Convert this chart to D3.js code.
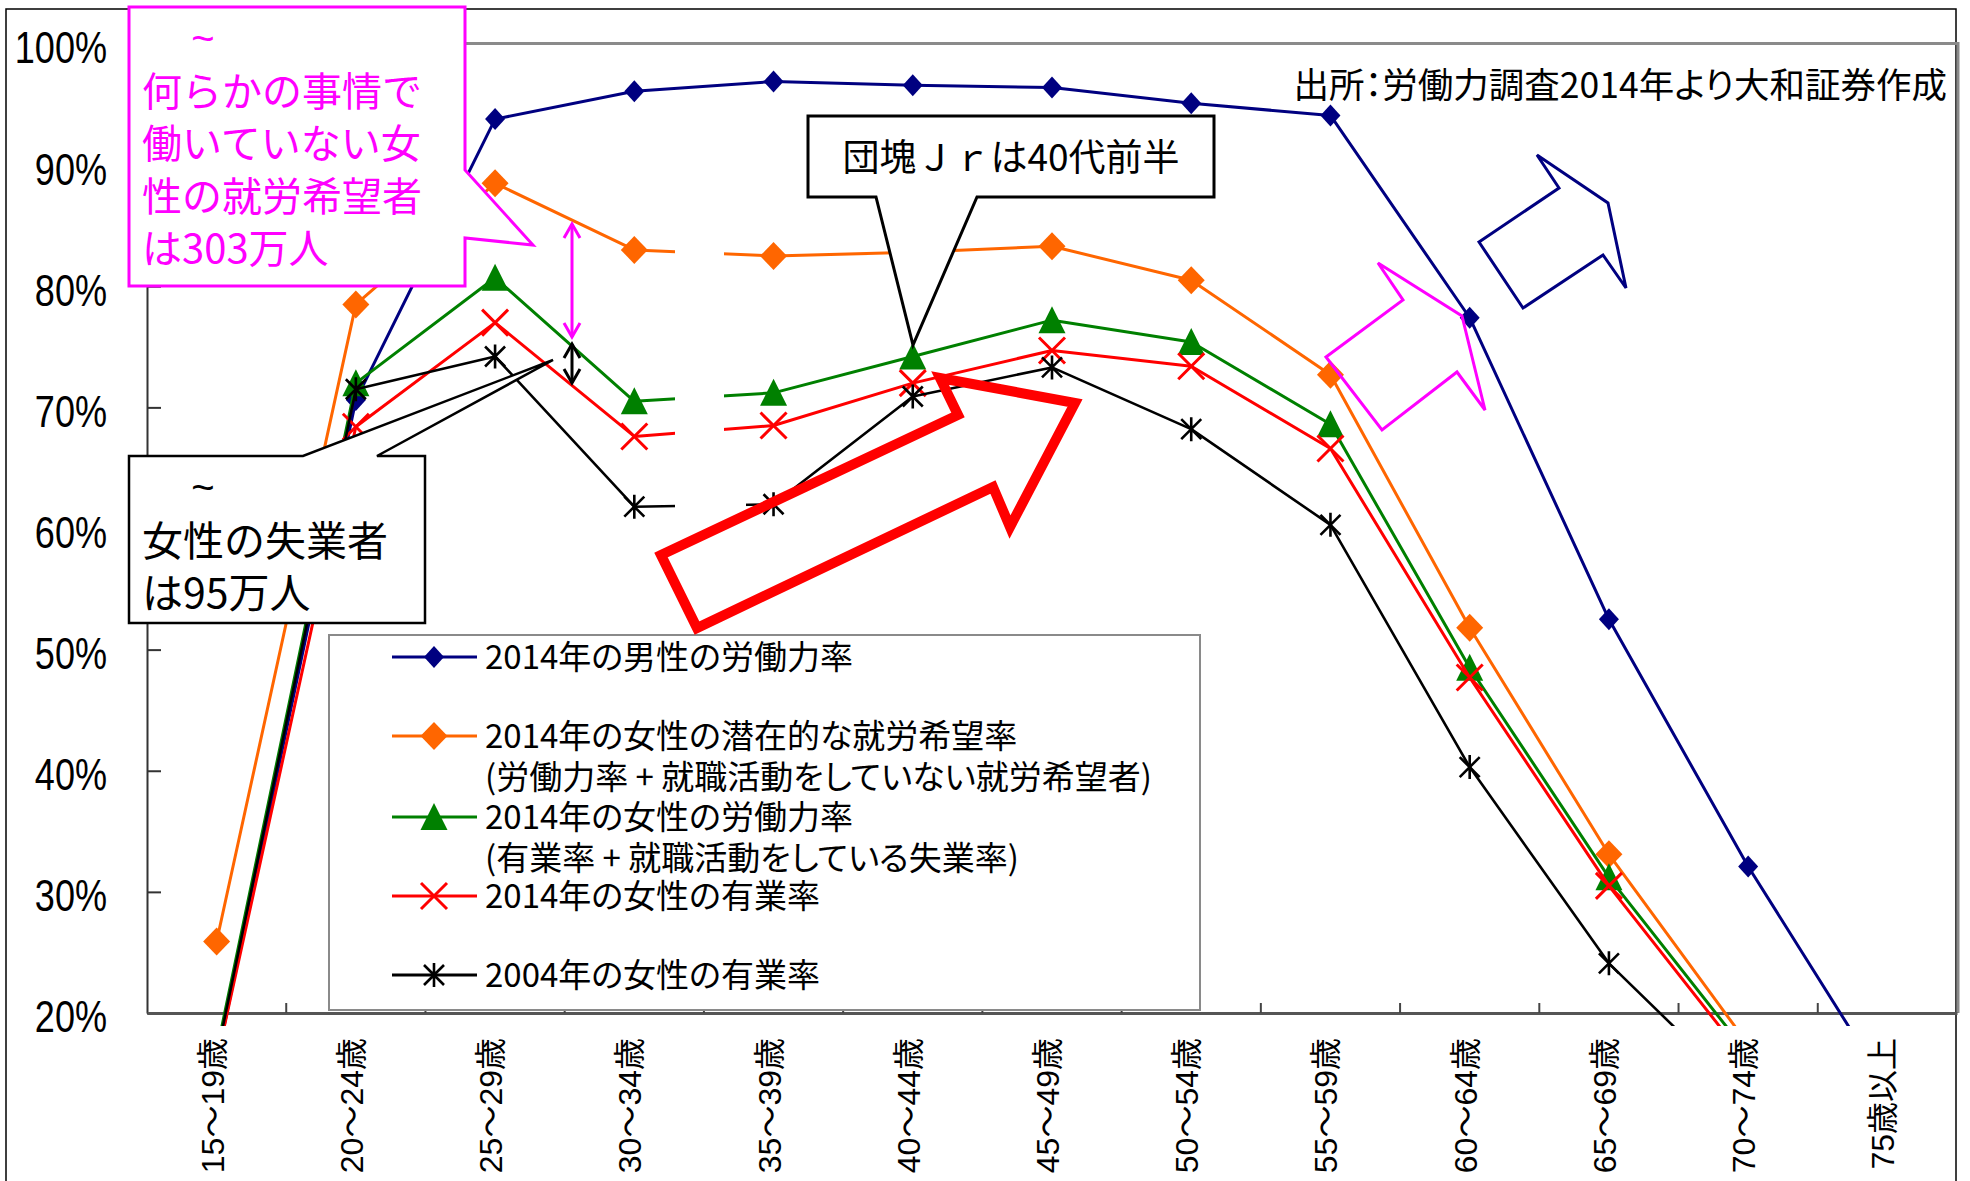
<!DOCTYPE html>
<html>
<head>
<meta charset="utf-8">
<script src="https://cdn.jsdelivr.net/npm/d3@7"></script>
<style>
  body { margin: 0; background: #fff; }
  svg { display: block; }
</style>
</head>
<body>
<svg id="chart" width="1970" height="1181"></svg>
<script>
// Age groups on the x axis
const categories = ["15～19歳", "20～24歳", "25～29歳", "30～34歳", "35～39歳", "40～44歳",
  "45～49歳", "50～54歳", "55～59歳", "60～64歳", "65～69歳", "70～74歳", "75歳以上"];

// Rates in percent per age group (null = below the plotted range)
const men2014 = [16.0, 70.6, 93.8, 96.1, 96.9, 96.6, 96.4, 95.1, 94.1, 77.4, 52.5, 32.1, 13.8];
const womenPotential2014 = [25.9, 78.5, 88.5, 83.0, 82.5, 82.8, 83.3, 80.5, 72.7, 51.8, 33.1, 17.4, null];
const womenLabour2014 = [16.8, 72.0, 80.7, 70.5, 71.2, 74.2, 77.2, 75.4, 68.6, 48.5, 31.2, 16.6, null];
const womenEmployed2014 = [16.0, 68.4, 77.0, 67.6, 68.5, 72.0, 74.7, 73.4, 66.6, 47.7, 30.5, 15.9, null];
const womenEmployed2004 = [16.4, 71.5, 74.2, 61.8, 62.0, 70.9, 73.3, 68.2, 60.3, 40.3, 24.1, 12.9, null];

// Y axis ticks
const yTicks = [20, 30, 40, 50, 60, 70, 80, 90, 100];

// Legend labels (one or two lines each)
const legendLabels = [
  ["2014年の男性の労働力率"],
  ["2014年の女性の潜在的な就労希望率", "(労働力率 + 就職活動をしていない就労希望者)"],
  ["2014年の女性の労働力率", "(有業率 + 就職活動をしている失業率)"],
  ["2014年の女性の有業率"],
  ["2004年の女性の有業率"]
];

const sourceNote = "出所：労働力調査2014年より大和証券作成";
const noteWanting = ["何らかの事情で", "働いていない女", "性の就労希望者", "は303万人"];
const noteUnemployed = ["女性の失業者", "は95万人"];
const noteBabyBoom = "団塊Ｊｒは40代前半";

const LATIN = "'Liberation Sans', Arial, sans-serif";
const REGULAR = "'Liberation Sans', Arial, 'Noto Sans CJK JP', sans-serif";
const CJK = "'Noto Sans CJK JP', sans-serif";

const svg = d3.select("#chart");
const plot = { left: 147, right: 1957, top: 44, bottom: 1013 };

const x = d3.scaleBand().domain(categories).range([plot.left, plot.right]).padding(0);
const cx = c => x(c) + x.bandwidth() / 2;
const y = d3.scaleLinear().domain([20, 100]).range([plot.bottom, plot.top]);

svg.append("rect").attr("width", 1970).attr("height", 1181).attr("fill", "#fff");

// outer chart frame
svg.append("rect").attr("x", 6).attr("y", 9).attr("width", 1950).attr("height", 1200)
  .attr("fill", "none").attr("stroke", "#000").attr("stroke-width", 1.5);

// plot area border (top and right)
svg.append("path")
  .attr("d", `M${plot.left},${plot.top - 0.5} H${plot.right + 1} V${plot.bottom}`)
  .attr("fill", "none").attr("stroke", "#8a8a8a").attr("stroke-width", 3);

// y axis, condensed labels
const labelSquash = 0.82;
const yAxis = svg.append("g").attr("transform", `translate(${plot.left},0)`)
  .call(d3.axisLeft(y).tickValues(yTicks).tickFormat(d => d + "%")
    .tickSizeInner(-14).tickSizeOuter(0).tickPadding(40));
yAxis.select(".domain").attr("stroke", "#333").attr("stroke-width", 2);
yAxis.selectAll(".tick line").attr("stroke", "#333").attr("stroke-width", 2);
yAxis.selectAll(".tick text").attr("font-family", LATIN).attr("font-size", 44)
  .attr("fill", "#000").attr("dy", "0.43em")
  .attr("x", -40 / labelSquash).attr("transform", `scale(${labelSquash},1)`);

// x axis
const xAxis = svg.append("g").attr("transform", `translate(0,${plot.bottom})`)
  .call(d3.axisBottom(x).tickSize(0).tickSizeOuter(0));
xAxis.select(".domain").attr("stroke", "#555").attr("stroke-width", 3);
xAxis.selectAll(".tick text")
  .attr("font-family", REGULAR).attr("font-size", 32).attr("fill", "#000")
  .attr("text-anchor", "end").attr("transform", "rotate(-90)")
  .attr("x", -25).attr("y", 7).attr("dy", 0);
// tick marks at category boundaries
svg.append("g").selectAll("line").data(categories.slice(1)).join("line")
  .attr("x1", d => x(d)).attr("x2", d => x(d))
  .attr("y1", plot.bottom - 10).attr("y2", plot.bottom)
  .attr("stroke", "#444").attr("stroke-width", 2);

// clipping for series
svg.append("clipPath").attr("id", "plotClip").append("rect")
  .attr("x", plot.left).attr("y", 0).attr("width", plot.right - plot.left).attr("height", 1026);

const series = [
  { values: men2014, color: "#000080", marker: "diamondS", width: 3 },
  { values: womenPotential2014, color: "#FF6600", marker: "diamondL", width: 3 },
  { values: womenLabour2014, color: "#008000", marker: "triangle", width: 3 },
  { values: womenEmployed2014, color: "#FF0000", marker: "cross", width: 3 },
  { values: womenEmployed2004, color: "#000000", marker: "star", width: 2.6 }
];

function drawMarker(g, type, color, px, py) {
  if (type === "diamondS") {
    g.append("path").attr("d", `M${px},${py - 11} L${px + 10},${py} L${px},${py + 11} L${px - 10},${py} Z`)
      .attr("fill", color);
  } else if (type === "diamondL") {
    g.append("path").attr("d", `M${px},${py - 14} L${px + 13.5},${py} L${px},${py + 14} L${px - 13.5},${py} Z`)
      .attr("fill", color);
  } else if (type === "triangle") {
    g.append("path").attr("d", `M${px},${py - 14} L${px + 13.5},${py + 13} L${px - 13.5},${py + 13} Z`)
      .attr("fill", color);
  } else if (type === "cross") {
    g.append("path").attr("d", `M${px - 13},${py - 13} L${px + 13},${py + 13} M${px - 13},${py + 13} L${px + 13},${py - 13}`)
      .attr("stroke", color).attr("stroke-width", 3).attr("fill", "none");
  } else if (type === "star") {
    g.append("path").attr("d", `M${px - 10},${py - 10} L${px + 10},${py + 10} M${px - 10},${py + 10} L${px + 10},${py - 10} M${px},${py - 12} V${py + 12}`)
      .attr("stroke", color).attr("stroke-width", 2.6).attr("fill", "none");
  }
}

const seriesLayer = svg.append("g").attr("clip-path", "url(#plotClip)");
const line = d3.line()
  .defined(d => d.v != null)
  .x(d => cx(d.c)).y(d => y(d.v));

series.forEach(s => {
  const pts = categories.map((c, i) => ({ c, v: s.values[i] }));
  const g = seriesLayer.append("g");
  g.append("path").datum(pts).attr("d", line)
    .attr("fill", "none").attr("stroke", s.color).attr("stroke-width", s.width)
    .attr("stroke-linejoin", "round");
  pts.filter(p => p.v != null).forEach(p => drawMarker(g, s.marker, s.color, cx(p.c), y(p.v)));
});

// blank text box sitting over the lines between 30～34 and 35～39
svg.append("path")
  .attr("d", "M675,150 H724 V470 L746,478 V525 H675 Z")
  .attr("fill", "#fff");

// legend
const legend = svg.append("g");
legend.append("rect").attr("x", 329).attr("y", 635).attr("width", 871).attr("height", 375)
  .attr("fill", "#fff").attr("stroke", "#8a8a8a").attr("stroke-width", 2);
const legendRows = [657, 736, 817, 896, 975];
series.forEach((s, i) => {
  const ly = legendRows[i];
  legend.append("line").attr("x1", 392).attr("x2", 477).attr("y1", ly).attr("y2", ly)
    .attr("stroke", s.color).attr("stroke-width", 3);
  drawMarker(legend, s.marker, s.color, 434, ly);
  legendLabels[i].forEach((t, j) => {
    legend.append("text").attr("x", 485).attr("y", ly + 12 + j * 41)
      .attr("font-family", CJK).attr("font-size", 33)
      .style("font-feature-settings", "'palt' 1")
      .attr("fill", "#000").text(t);
  });
});

// callout: women who want to work but are not working
svg.append("path")
  .attr("d", "M129,7 H465 V170 L533,245 L465,238 V286 H129 Z")
  .attr("fill", "#fff").attr("stroke", "#FF00FF").attr("stroke-width", 3);
svg.append("text").attr("x", 203).attr("y", 52).attr("text-anchor", "middle")
  .attr("font-family", LATIN).attr("font-size", 40).attr("fill", "#FF00FF").text("~");
noteWanting.forEach((t, i) => {
  svg.append("text").attr("x", 142).attr("y", 106 + i * 52.4)
    .attr("font-family", CJK).attr("font-size", 40).attr("fill", "#FF00FF").text(t);
});

// callout: unemployed women
svg.append("path")
  .attr("d", "M129,456 H303 L553,360 L377,456 H425 V623 H129 Z")
  .attr("fill", "#fff").attr("stroke", "#000").attr("stroke-width", 2.5);
svg.append("text").attr("x", 203).attr("y", 501).attr("text-anchor", "middle")
  .attr("font-family", LATIN).attr("font-size", 40).attr("fill", "#000").text("~");
noteUnemployed.forEach((t, i) => {
  svg.append("text").attr("x", 142).attr("y", 556 + i * 52.4)
    .attr("font-family", CJK).attr("font-size", 41).attr("fill", "#000").text(t);
});

// callout: second baby-boom generation
svg.append("path")
  .attr("d", "M808,116 H1214 V197 H977 L913,345 L876,197 H808 Z")
  .attr("fill", "#fff").attr("stroke", "#000").attr("stroke-width", 3);
svg.append("text").attr("x", 1011).attr("y", 171).attr("text-anchor", "middle")
  .attr("font-family", CJK).attr("font-size", 37).attr("fill", "#000").text(noteBabyBoom);

// double-headed gap arrows
function doubleArrow(ax, y1, y2, color) {
  const g = svg.append("g").attr("stroke", color).attr("stroke-width", 3).attr("fill", "none");
  g.append("line").attr("x1", ax).attr("x2", ax).attr("y1", y1).attr("y2", y2);
  g.append("path").attr("d", `M${ax - 8},${y1 + 14} L${ax},${y1} L${ax + 8},${y1 + 14}`);
  g.append("path").attr("d", `M${ax - 8},${y2 - 14} L${ax},${y2} L${ax + 8},${y2 - 14}`);
}
doubleArrow(572, 224, 337, "#FF00FF");
doubleArrow(572, 344, 383, "#000");

// outlined block arrows
svg.append("path")
  .attr("d", "M661,555 L958,415 L940,378 L1075,403 L1010,527 L993,487 L697,628 Z")
  .attr("fill", "none").attr("stroke", "#FF0000").attr("stroke-width", 10).attr("stroke-linejoin", "miter");
svg.append("path")
  .attr("d", "M1326,357 L1403,300 L1378,263 L1462,316 L1485,410 L1457,372 L1382,430 Z")
  .attr("fill", "none").attr("stroke", "#FF00FF").attr("stroke-width", 3);
svg.append("path")
  .attr("d", "M1479,242 L1559,188 L1537,155 L1608,203 L1626,288 L1603,255 L1523,308 Z")
  .attr("fill", "none").attr("stroke", "#000080").attr("stroke-width", 3);

// source note
svg.append("text").attr("x", 1947).attr("y", 98).attr("text-anchor", "end")
  .attr("font-family", CJK).attr("font-size", 35.5)
  .style("font-feature-settings", "'palt' 1")
  .attr("fill", "#000").text(sourceNote);
</script>
</body>
</html>
